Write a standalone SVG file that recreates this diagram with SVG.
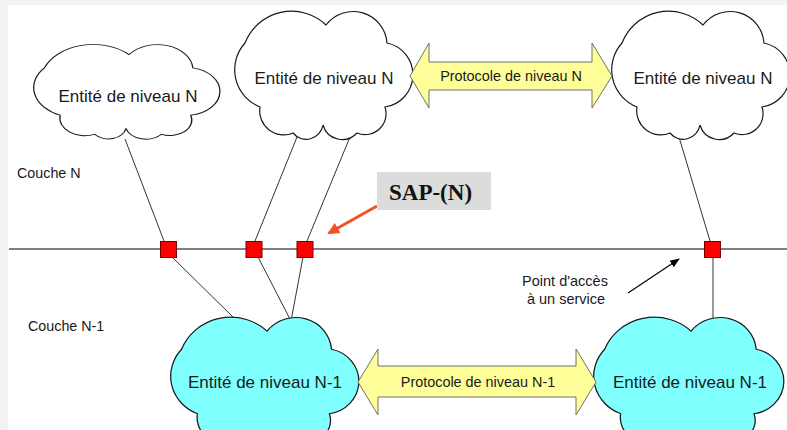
<svg xmlns="http://www.w3.org/2000/svg" width="787" height="430" viewBox="0 0 787 430">
<defs>
<style>
.cloud{stroke:#1a1a1a;stroke-width:1.2;}
.c-top{fill:#ffffff;}
.c-bot{fill:#80ffff;}
.lbl{font-family:"Liberation Sans",Arial,sans-serif;fill:#1a1a1a;}
.ent{font-size:17px;text-anchor:middle;}
.proto{font-size:14.4px;text-anchor:middle;}
.side{font-size:14.3px;}
.conn{stroke:#333;stroke-width:1;fill:none;}
.sap{fill:#ff0000;stroke:#7a0000;stroke-width:1;}
.dbl{fill:#ffff99;stroke:#707070;stroke-width:1;}
</style>
<path id="cloudShape" d="M10,31 A50,50 0 0 1 91,13 A34,34 0 0 1 152,31 A32.5,32.5 0 0 1 150,95 A21,21 0 0 1 122,121 A20,20 0 0 1 88,113 A17,17 0 0 1 58,121 A24,24 0 0 1 25,95 A40,40 0 0 1 10,31 Z"/>
<marker id="ahBlack" markerWidth="10" markerHeight="10" refX="9" refY="5" orient="auto" markerUnits="userSpaceOnUse">
<path d="M0,1 L10,5 L0,9 Z" fill="#000"/>
</marker>
<marker id="ahOrange" markerWidth="12" markerHeight="12" refX="10" refY="6" orient="auto" markerUnits="userSpaceOnUse">
<path d="M0,0 L12,6 L0,12 Z" fill="#ef5424"/>
</marker>
</defs>
<rect x="0" y="0" width="787" height="430" fill="#ffffff"/>
<rect x="0" y="0" width="8" height="430" fill="#f2f4f4"/>
<rect x="0" y="0" width="787" height="5" fill="#f2f4f4"/>

<line x1="9" y1="249" x2="787" y2="249" stroke="#808080" stroke-width="2"/>

<g id="connectors">
<line class="conn" x1="125" y1="139" x2="164" y2="241"/>
<line class="conn" x1="172" y1="257" x2="236" y2="320"/>
<line class="conn" x1="297" y1="137" x2="255" y2="241"/>
<line class="conn" x1="258" y1="257" x2="291" y2="321"/>
<line class="conn" x1="350" y1="137" x2="307" y2="241"/>
<line class="conn" x1="303" y1="257" x2="291" y2="321"/>
<line class="conn" x1="679" y1="137" x2="710" y2="241"/>
<line class="conn" x1="713" y1="257" x2="713" y2="322"/>
<line x1="377" y1="206" x2="329" y2="233" stroke="#ef5424" stroke-width="3" marker-end="url(#ahOrange)"/>
<line x1="628" y1="293" x2="679" y2="259" stroke="#000" stroke-width="1.2" marker-end="url(#ahBlack)"/>
</g>

<g id="cloud1">
<use href="#cloudShape" class="cloud c-top" transform="translate(34,45) scale(1.045,0.738)" vector-effect="non-scaling-stroke" style="vector-effect:non-scaling-stroke"/>
<text class="lbl ent" x="128" y="102">Entité de niveau N</text>
</g>
<g id="cloud2">
<use href="#cloudShape" class="cloud c-top" transform="translate(235,12)"/>
<text class="lbl ent" x="324" y="84">Entité de niveau N</text>
</g>
<g id="cloud3">
<use href="#cloudShape" class="cloud c-top" transform="translate(612,12)"/>
<text class="lbl ent" x="703" y="84">Entité de niveau N</text>
</g>
<g id="cloud4">
<use href="#cloudShape" class="cloud c-bot" transform="translate(171,318) scale(1.056,1.008)"/>
<text class="lbl ent" x="265" y="388">Entité de niveau N-1</text>
</g>
<g id="cloud5">
<use href="#cloudShape" class="cloud c-bot" transform="translate(594,318) scale(1.067,1.008)"/>
<text class="lbl ent" x="690" y="388">Entité de niveau N-1</text>
</g>

<g id="protoN">
<polygon class="dbl" points="410,76 429,43 429,62 592,62 592,43 612,76 592,108 592,90 429,90 429,108"/>
<text class="lbl proto" x="511" y="81">Protocole de niveau N</text>
</g>
<g id="protoN1">
<polygon class="dbl" points="358,382 378,349 378,366 576,366 576,349 596,382 576,415 576,397 378,397 378,415"/>
<text class="lbl proto" x="478" y="387">Protocole de niveau N-1</text>
</g>

<g id="sap1"><rect class="sap" x="160.5" y="241.5" width="16" height="16"/></g>
<g id="sap2"><rect class="sap" x="246" y="241.5" width="16" height="16"/></g>
<g id="sap3"><rect class="sap" x="297" y="241.5" width="16" height="16"/></g>
<g id="sap4"><rect class="sap" x="704.5" y="241.5" width="16" height="16"/></g>

<g id="sapLabel">
<rect x="377" y="172" width="114" height="38" fill="#dcdcdc"/>
<text x="389" y="200" font-family="'Liberation Serif','Times New Roman',serif" font-weight="bold" font-size="23" fill="#111">SAP-(N)</text>
</g>

<g id="pointAcces">
<text class="lbl" font-size="14.5" text-anchor="middle" x="565" y="286">Point d'accès</text>
<text class="lbl" font-size="14.5" text-anchor="middle" x="566" y="304">à un service</text>
</g>

<g id="layers">
<text class="lbl side" x="17" y="178">Couche N</text>
<text class="lbl side" x="28" y="331">Couche N-1</text>
</g>
</svg>
